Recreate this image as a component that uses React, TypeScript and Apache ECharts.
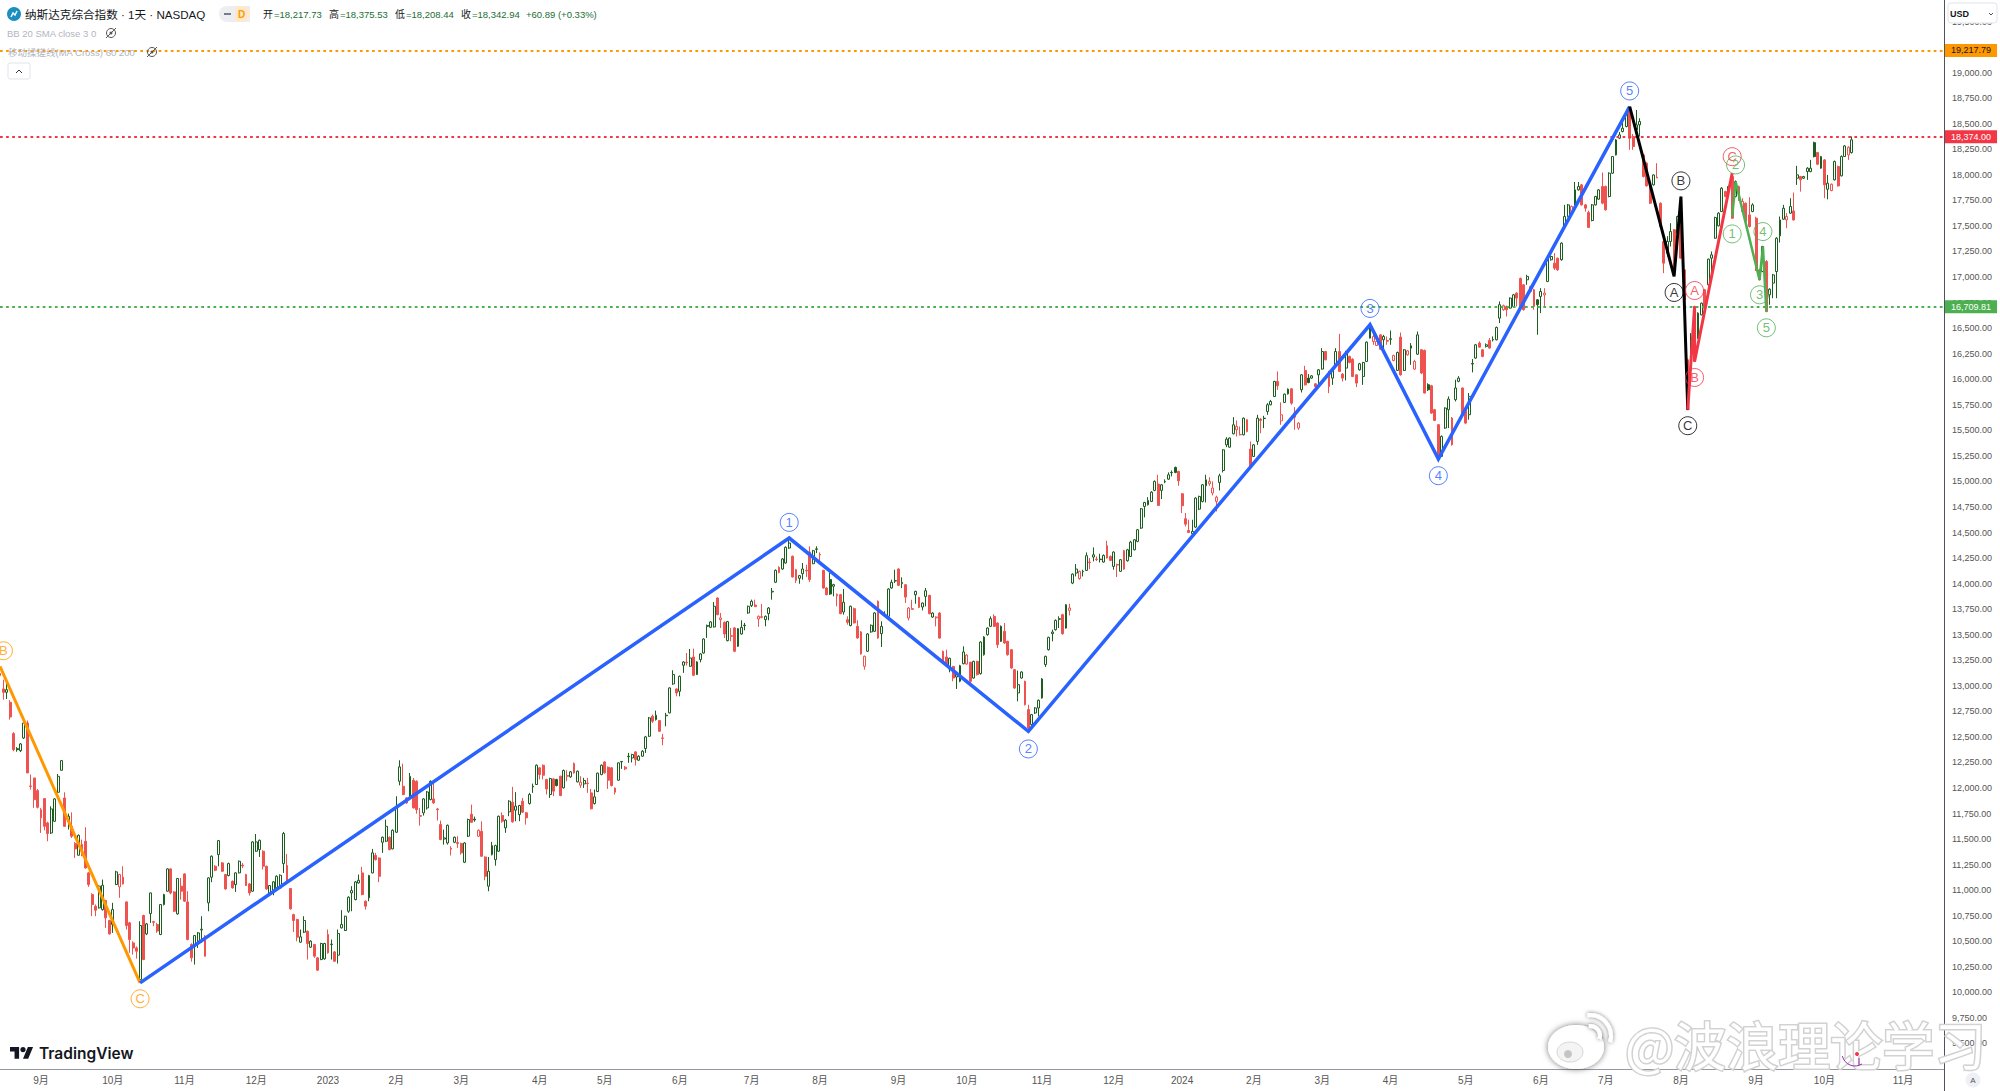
import React, { useEffect, useRef } from "react";
import * as echarts from "echarts";

type Row = number[];
// daily bars as [open, close, low, high]
const aug22: Row[] = [[13120,13100,13040,13181],[12969,12936,12864,13060],[12936,12962,12871,13027],[12838,12695,12669,12860],[12532,12375,12360,12545],[12385,12375,12355,12400],[12365,12431,12351,12440],[12489,12636,12480,12640],[12636,12147,12147,12660],[12020,12015,11984,12131],[12098,11886,11805,12098],[11974,11811,11800,11990]];
const sep22: Row[] = [[11707,11788,11560,11805],[11896,11625,11586,11900],[11658,11554,11479,11670],[11560,11795,11550,11821],[11674,11893,11670,11900],[11958,12114,11950,12137],[12173,12268,12170,12270],[11902,11625,11620,11958],[11674,11723,11593,11749],[11625,11528,11511,11762],[11456,11404,11316,11470],[11342,11537,11340,11545],[11446,11397,11332,11495],[11479,11218,11210,11616],[11169,11055,11032,11180],[10957,10859,10745,10970],[10843,10804,10745,10860],[10827,11039,10820,11050],[10810,11048,10800,11104],[10898,10729,10631,10905],[10703,10572,10565,10710]];
const oct22: Row[] = [[10664,10810,10582,10876],[11055,11179,11050,11190],[11032,11153,10925,11160],[11127,11061,11055,11234],[10885,10654,10615,10890],[10680,10517,10387,10690],[10484,10435,10370,10500],[10435,10403,10330,10450],[10126,10654,10093,10696],[10752,10321,10315,10760],[10572,10670,10560,10680],[10771,10973,10680,10975],[10692,10685,10647,10700],[10664,10600,10582,10680],[10566,10859,10560,10865],[10859,10957,10850,10965],[10990,11208,10985,11213],[11208,10973,10960,11213],[10983,10794,10785,10990],[10768,11114,10760,11120],[11039,10990,10908,11120]];
const nov22: Row[] = [[11159,10892,10885,11165],[10885,10517,10510,10990],[10468,10338,10300,10480],[10451,10556,10272,10560],[10501,10582,10435,10590],[10610,10618,10484,10745],[10550,10354,10350,10560],[10876,11120,10794,11125],[11127,11332,11078,11340],[11234,11195,11185,11245],[11348,11485,11234,11490],[11267,11185,11180,11275],[11153,11012,11005,11160],[11143,11260,11135,11270],[11087,11022,11015,11095],[11055,11169,10983,11175],[11169,11283,11165,11290],[11245,11237,11215,11265],[11153,11045,11040,11160],[11061,10973,10947,11070],[10990,11472,10985,11480]];
const dec22: Row[] = [[11381,11472,11375,11550],[11397,11488,11325,11495],[11381,11234,11202,11390],[11234,11012,11005,11240],[10957,11045,10950,11050],[11000,11081,10950,11090],[11022,11136,11015,11145],[11022,11146,11015,11155],[11260,11554,11169,11570],[11241,11078,11070,11355],[11016,10817,10810,11020],[10761,10703,10590,10770],[10713,10540,10500,10720],[10491,10543,10485,10615],[10589,10703,10580,10745],[10598,10478,10321,10605],[10442,10501,10435,10510],[10468,10354,10338,10475],[10338,10217,10210,10345],[10321,10478,10315,10485],[10328,10478,10320,10485]];
const jan23: Row[] = [[10566,10387,10380,10615],[10468,10472,10321,10517],[10396,10305,10298,10405],[10364,10576,10282,10615],[10631,10664,10625,10804],[10605,10745,10600,10750],[10794,10931,10778,10940],[10973,10996,10794,11039],[10908,11081,10900,11090],[11071,11097,11065,11153],[11169,10957,10950,11228],[10892,10843,10810,10900],[10925,11143,10892,11150],[11169,11365,11165,11404],[11339,11299,11290,11365],[11315,11136,11078,11320],[11469,11518,11365,11525],[11479,11625,11470,11690],[11518,11397,11390,11525],[11404,11586,11400,11595]];
const feb23: Row[] = [[11567,11821,11560,11919],[12066,12206,12026,12271],[12017,11935,11930,12238],[11903,11854,11845,11910],[11903,12114,11895,12147],[12075,11805,11800,12098],[12065,11788,11749,12075],[11730,11723,11632,11805],[11756,11893,11730,11900],[11805,11961,11788,11970],[11886,12065,11880,12075],[11893,11854,11845,12065],[11795,11788,11681,11805],[11642,11495,11490,11681],[11500,11511,11446,11593],[11462,11635,11446,11642],[11410,11400,11339,11430],[11469,11518,11460,11525],[11466,11456,11414,11528]];
const mar23: Row[] = [[11456,11365,11348,11465],[11273,11462,11265,11470],[11528,11691,11520,11700],[11743,11664,11660,11837],[11695,11687,11670,11720],[11528,11586,11520,11595],[11576,11332,11325,11674],[11325,11136,11097,11330],[11039,11185,10990,11325],[11348,11436,11340,11472],[11299,11436,11240,11445],[11381,11723,11375,11730],[11731,11675,11660,11760],[11610,11685,11561,11695],[11766,11871,11724,11880],[11861,11669,11660,12011],[11783,11822,11675,11959],[11740,11828,11675,11835],[11871,11763,11755,11903],[11757,11708,11642,11765],[11848,11936,11838,11952],[12010,12017,11952,12043],[12034,12223,12030,12230]];
const apr23: Row[] = [[12197,12131,12083,12205],[12223,12125,12083,12230],[12083,11991,11936,12090],[11936,12092,11903,12100],[12089,11969,11920,12095],[12083,12024,12015,12090],[12115,11926,11920,12120],[12001,12171,11995,12180],[12122,12115,12066,12174],[12109,12158,12100,12165],[12239,12148,12140,12250],[12060,12164,12055,12170],[12027,12057,12001,12115],[12040,12073,12001,12099],[12048,12043,11952,12099],[11952,11796,11790,11991],[11848,11913,11838,11985],[11965,12145,11960,12150],[12131,12223,12125,12230]];
const may23: Row[] = [[12255,12148,12140,12260],[12203,12076,11991,12210],[12197,12024,12015,12205],[11999,11959,11936,12005],[12076,12246,12070,12250],[12255,12260,12187,12262],[12203,12187,12175,12215],[12305,12311,12246,12343],[12294,12327,12250,12335],[12353,12278,12220,12360],[12272,12311,12265,12320],[12311,12360,12305,12370],[12386,12500,12343,12510],[12506,12686,12500,12695],[12702,12653,12637,12718],[12669,12712,12660,12757],[12660,12555,12550,12665],[12490,12485,12418,12529],[12706,12712,12604,12735],[12735,12979,12730,12985],[13018,13110,13010,13152],[12969,12930,12897,12975]];
const jun23: Row[] = [[12946,13093,12897,13100],[13201,13233,13126,13240],[13230,13225,13198,13321],[13191,13272,13185,13360],[13282,13103,13095,13364],[13110,13233,13105,13240],[13256,13312,13230,13320],[13321,13458,13315,13465],[13582,13590,13468,13599],[13572,13625,13565,13632],[13576,13778,13570,13820],[13859,13696,13690,13865],[13647,13664,13566,13713],[13621,13507,13468,13630],[13442,13628,13435,13635],[13490,13484,13435,13566],[13566,13338,13330,13575],[13387,13559,13380,13565],[13507,13572,13500,13641],[13593,13589,13543,13615],[13713,13778,13705,13785]];
const jul23: Row[] = [[13784,13827,13771,13843],[13790,13775,13771,13843],[13654,13680,13576,13688],[13676,13670,13660,13800],[13647,13680,13582,13688],[13706,13761,13641,13771],[13918,13925,13843,13957],[14013,14130,14005,14138],[14159,14110,14100,14170],[14143,14241,14135,14250],[14202,14355,14195,14365],[14348,14397,14340,14446],[14267,14065,14060,14275],[14136,14032,14006,14145],[14052,14078,13999,14085],[14097,14143,14039,14202],[14130,14124,14065,14185],[14309,14039,14016,14365],[14195,14322,14190,14330],[14335,14340,14299,14365]];
const aug23: Row[] = [[14285,14280,14218,14306],[14130,13957,13950,14135],[13957,13892,13885,13965],[14039,13898,13890,14104],[13974,13990,13876,13998],[13880,13895,13778,13905],[13892,13706,13700,13900],[13722,13817,13696,13947],[13647,13621,13598,13680],[13589,13778,13582,13785],[13755,13615,13610,13765],[13582,13468,13460,13641],[13527,13312,13305,13535],[13191,13289,13158,13295],[13338,13507,13330,13515],[13527,13592,13520,13600],[13533,13713,13527,13720],[13827,13468,13460,13835],[13510,13582,13380,13631],[13690,13696,13680,13729],[13680,13947,13675,13955],[13957,14013,13950,14039],[14025,14029,14006,14136]];
const sep23: Row[] = [[14143,13983,13975,14150],[13999,14012,13956,14061],[13989,13868,13810,13995],[13663,13761,13640,13770],[13748,13755,13745,13842],[13891,13924,13803,13930],[13865,13767,13760,13870],[13771,13810,13738,13815],[13875,13930,13777,13957],[13885,13705,13700,13890],[13673,13712,13665,13720],[13665,13673,13582,13680],[13712,13467,13460,13720],[13337,13223,13215,13345],[13282,13216,13210,13353],[13164,13269,13132,13275],[13190,13076,13044,13195],[13086,13119,12969,13125],[13044,13197,13035,13205],[13216,13331,13210,13386]];
const oct23: Row[] = [[13213,13301,13205,13310],[13230,13044,13011,13235],[13076,13239,13070,13245],[13239,13109,13100,13245],[13119,13428,13110,13435],[13304,13477,13295,13485],[13500,13565,13490,13572],[13582,13657,13575,13679],[13679,13582,13575,13700],[13614,13402,13370,13620],[13582,13435,13430,13590],[13533,13419,13410,13614],[13435,13304,13295,13440],[13353,13174,13165,13360],[13158,12978,12970,13165],[12930,13011,12848,13148],[13076,13135,13070,13142],[13044,12815,12808,13050],[12767,12587,12543,12815],[12620,12718,12604,12725],[12734,12783,12725,12790],[12783,12858,12701,12865]];
const nov23: Row[] = [[12881,13067,12875,13075],[13207,13288,13184,13295],[13353,13474,13345,13480],[13510,13526,13435,13549],[13549,13640,13540,13650],[13650,13657,13565,13680],[13696,13510,13500,13705],[13565,13793,13560,13800],[13738,13761,13689,13803],[14005,14093,13995,14100],[14103,14142,14070,14191],[14048,14120,14038,14128],[14115,14120,14070,14136],[14129,14273,14125,14305],[14211,14205,14142,14250],[14260,14282,14217,14354],[14240,14235,14220,14266],[14240,14235,14207,14292],[14211,14276,14205,14285],[14370,14250,14245,14419],[14266,14227,14220,14275]];
const dec23: Row[] = [[14168,14309,14136,14315],[14187,14181,14064,14195],[14120,14234,14115,14240],[14322,14142,14135,14330],[14224,14331,14215,14340],[14266,14406,14260,14419],[14331,14429,14325,14435],[14413,14527,14405,14535],[14543,14732,14535,14740],[14755,14794,14648,14800],[14771,14814,14765,14846],[14804,14895,14798,14905],[14912,15000,14905,15010],[14974,14765,14760,15065],[14912,14967,14827,14975],[14995,15000,14983,15020],[15022,15065,15015,15088],[15085,15088,15049,15107],[15137,15088,15080,15145],[15098,15006,14957,15105]];
const jan24: Row[] = [[14879,14762,14690,14885],[14635,14582,14560,14690],[14520,14501,14495,14625],[14488,14511,14480,14625],[14553,14837,14545,14845],[14729,14853,14720,14860],[14804,14967,14795,14975],[14957,15016,14794,15065],[14977,15000,14957,15042],[14886,14935,14863,15000],[14804,14846,14706,14860],[14990,15055,14912,15075],[15107,15309,15088,15315],[15358,15414,15335,15433],[15335,15424,15330,15430],[15466,15554,15460,15629],[15505,15538,15440,15596],[15460,15456,15450,15538],[15456,15619,15450,15625],[15603,15489,15480,15610],[15316,15146,15140,15391]];
const feb24: Row[] = [[15244,15358,15240,15365],[15391,15619,15358,15652],[15609,15596,15472,15620],[15615,15619,15521,15642],[15684,15750,15652,15766],[15750,15782,15745,15798],[15831,15978,15825,15985],[15978,15936,15897,16076],[15593,15652,15554,15773],[15773,15854,15767,15860],[15857,15903,15850,15910],[15906,15766,15750,15912],[15668,15629,15505,15727],[15522,15571,15505,15580],[15897,16043,15870,16050],[16086,15945,15938,16131],[16011,15968,15960,16050],[16011,16033,16005,16040],[15955,15929,15913,15960],[16043,16092,15929,16100]];
const mar24: Row[] = [[16099,16271,16095,16304],[16271,16190,16185,16278],[16076,15929,15864,16082],[16011,16099,15945,16105],[16141,16271,16135,16304],[16271,16076,16070,16444],[16050,16011,15978,16060],[16109,16271,15988,16278],[16223,16164,16155,16230],[16196,16027,16020,16205],[16043,15962,15923,16050],[16092,16151,16085,16160],[16027,16164,15945,16170],[16174,16363,16168,16370],[16402,16516,16400,16542],[16369,16418,16337,16451],[16330,16369,16325,16375],[16434,16294,16288,16440],[16386,16418,16288,16434],[16379,16372,16337,16418]];
const apr24: Row[] = [[16390,16396,16337,16477],[16183,16232,16175,16240],[16086,16262,16080,16270],[16412,16043,16035,16457],[16086,16288,16080,16295],[16239,16278,16230,16285],[16304,16327,16141,16353],[16099,16174,16092,16190],[16245,16434,16240,16467],[16288,16060,16050,16295],[16282,15865,15860,16290],[15946,15897,15885,15960],[15936,15669,15660,15945],[15702,15597,15590,15710],[15555,15229,15222,15560],[15245,15441,15240,15450],[15522,15718,15515,15725],[15702,15806,15522,15832],[15620,15359,15350,15630],[15800,15914,15783,15995],[15979,16011,15970,16030],[15914,15653,15645,15920]];
const may24: Row[] = [[15718,15571,15560,15725],[15653,15832,15604,15865],[16148,16155,16067,16197],[16207,16337,16200,16345],[16354,16314,16310,16370],[16288,16223,16215,16295],[16321,16337,16310,16350],[16380,16305,16300,16403],[16385,16390,16370,16419],[16386,16507,16380,16515],[16598,16729,16549,16761],[16680,16719,16670,16730],[16712,16680,16614,16720],[16696,16794,16690,16800],[16712,16826,16705,16835],[16843,16794,16712,16850],[16986,16712,16705,16995],[16924,16680,16672,16930],[16973,17006,16924,17022],[16859,16908,16850,16915],[16875,16712,16680,16885],[16777,16729,16435,16785]];
const jun24: Row[] = [[16810,16859,16647,16891],[16825,16843,16700,16891],[16957,17185,16950,17190],[17169,17201,17160,17210],[17136,17087,17070,17234],[17185,17071,17060,17190],[17169,17332,17160,17340],[17495,17592,17490,17706],[17592,17706,17585,17715],[17641,17690,17630,17700],[17674,17853,17668,17930],[17853,17886,17845,17930],[17902,17706,17700,17910],[17706,17674,17640,17715],[17631,17485,17480,17650],[17553,17706,17545,17715],[17706,17788,17700,17795],[17762,17853,17755,17860],[17886,17723,17712,18023]];
const jul24: Row[] = [[17886,17658,17650,17895],[17788,18016,17780,18025],[18016,18179,18010,18185],[18195,18342,18190,18350],[18359,18391,18350,18420],[18424,18456,18415,18510],[18473,18603,18465,18640],[18662,18358,18245,18671],[18375,18277,18245,18400],[18440,18489,18375,18635],[18489,18522,18375,18554],[18195,17984,17975,18205],[18114,17892,17885,18125],[17886,17723,17715,17895],[17902,17999,17895,18005],[17977,17970,17967,18114],[17722,17494,17488,17730],[17347,17136,17038,17355],[17233,17347,17200,17400],[17347,17445,17299,17527],[17462,17136,17006,17470],[17429,17592,17420,17600]];
const aug24: Row[] = [[17641,17185,17180,17788],[17070,16777,16770,17075],[16190,15701,15701,16200],[16255,16369,16190,16451],[16712,16174,16168,16720],[16402,16647,16395,16655],[16630,16744,16625,16750],[16875,16695,16690,16885],[16924,17175,16918,17180],[17185,17217,17038,17250],[17380,17582,17375,17590],[17501,17625,17495,17635],[17641,17869,17635,17880],[17837,17788,17780,17845],[17885,17837,17830,17895],[17983,17576,17570,18016],[17787,17934,17780,17945],[17885,17755,17745,17895],[17641,17739,17635,17771],[17722,17543,17535,17730],[17608,17494,17485,17781],[17641,17706,17635,17722]];
const sep24: Row[] = [[17576,17070,17060,17590],[17070,16973,16965,17080],[17054,17299,17048,17305],[17152,16663,16655,17165],[16826,16881,16728,16890],[16940,17021,16793,17030],[17054,17380,16793,17390],[17403,17559,17338,17592],[17566,17673,17560,17706],[17559,17592,17478,17625],[17625,17690,17620,17771],[17647,17559,17553,17827],[17967,18000,17902,18088],[17983,17951,17836,17990],[17967,17983,17960,17990],[18032,18065,17951,18075],[18032,18065,18025,18146],[18315,18179,18170,18325],[18218,18104,18095,18225],[18065,18179,18060,18185]];
const oct24: Row[] = [[18146,17902,17771,18155],[17859,17918,17761,17999],[17846,17908,17840,17915],[17951,18130,17945,18140],[18081,17892,17885,18090],[17990,18179,17985,18190],[18179,18283,18175,18290],[18195,18270,18146,18280],[18217.73,18342.94,18208.44,18375.53]];

const tickIndices = [12,33,54,75,96,116,135,158,177,199,220,240,263,283,305,326,346,367,387,407,429,451,470,492,514,534,557];
const tickLabels = ["9月","10月","11月","12月","2023","2月","3月","4月","5月","6月","7月","8月","9月","10月","11月","12月","2024","2月","3月","4月","5月","6月","7月","8月","9月","10月","11月"];
const barSlots = 570;

// wave legs as [bar index, price]
const orangeWave = [[0,13190],[41,10093]];
const blueWave = [[41,10093],[231,14446],[301,12555],[401,16533],[421,15219],[477,18668]];
const blackWave = [[477,18668],[490,17006],[492,17788],[494,15702]];
const redWave = [[494,15702],[496,16711],[496,16173],[507,18016]];
const greenWave = [[507,17592],[508,17934],[515,16973],[516,17299],[517,16663]];

// circled wave labels as [bar index, price, text]
const orangeMarks = [[1,13343,"B"],[41,9937,"C"]];
const blueMarks = [[231,14599,"1"],[301,12382,"2"],[401,16693,"3"],[421,15056,"4"],[477,18821,"5"]];
const blackMarks = [[490,16849,"A"],[492,17941,"B"],[494,15545,"C"]];
const redMarks = [[496,16868,"A"],[496,16017,"B"],[507,18178,"C"]];
const greenMarks = [[507,17422,"1"],[508,18097,"2"],[515,16826,"3"],[516,17445,"4"],[517,16503,"5"]];

const priceLines = [
  { value: 19217.79, color: "#ff9800", text: "#131722" },
  { value: 18374.0, color: "#f23645", text: "#ffffff" },
  { value: 16709.81, color: "#4caf50", text: "#ffffff" },
];

const UP = "#1b5e20";
const DOWN = "#ef5350";
const LATIN = '"Liberation Sans", Arial, sans-serif';
const CJK = '"Liberation Sans", "Noto Sans CJK SC", sans-serif';

echarts.graphic.registerShape(
  "tvLogo",
  echarts.graphic.extendPath("M14 22H7V11H0V4h14v18zM28 22h-8l7.5-18h8L28 22zM16 8a4 4 0 1 0 8 0a4 4 0 1 0 -8 0z", {})
);

const txt = (x: number, y: number, text: string, font: string, fill: string, extra: any = {}) => ({
  type: "text",
  x,
  y,
  z: 50,
  silent: true,
  style: { text, font, fill, textVerticalAlign: "middle", ...extra },
});

const eye = (x: number, y: number) => [
  { type: "circle", z: 50, shape: { cx: x, cy: y, r: 4.5 }, style: { fill: "none", stroke: "#555", lineWidth: 1 } },
  { type: "circle", z: 50, shape: { cx: x, cy: y, r: 1.5 }, style: { fill: "#555" } },
  { type: "line", z: 50, shape: { x1: x - 5, y1: y + 5, x2: x + 5, y2: y - 5 }, style: { stroke: "#555", lineWidth: 1 } },
];

const mark = "rgba(0,0,0,0.55)";

const overlay: any[] = [
  // header
  { type: "circle", z: 50, shape: { cx: 14, cy: 14, r: 7 }, style: { fill: "#1b8fc0" } },
  { type: "polyline", z: 51, shape: { points: [[11, 17], [13, 13], [15, 15], [17, 11]] }, style: { stroke: "#fff", lineWidth: 1.5, fill: "none" } },
  txt(25, 14, "纳斯达克综合指数 · 1天 · NASDAQ", `11.6px ${CJK}`, "#131722"),
  { type: "rect", z: 50, shape: { x: 219, y: 6, width: 31, height: 16, r: [8, 0, 0, 8] }, style: { fill: "#eceef2" } },
  { type: "rect", z: 50, shape: { x: 235, y: 6, width: 15, height: 16, r: [0, 8, 8, 0] }, style: { fill: "#ffe9cc" } },
  { type: "rect", z: 51, shape: { x: 224, y: 13, width: 7, height: 2 }, style: { fill: "#787b86" } },
  txt(238, 14, "D", `bold 10px ${LATIN}`, "#ff9800"),
  txt(263, 14, "开", `10px ${CJK}`, "#131722"),
  txt(274, 14, "=18,217.73", `9.5px ${LATIN}`, "#1b6e33"),
  txt(329, 14, "高", `10px ${CJK}`, "#131722"),
  txt(340, 14, "=18,375.53", `9.5px ${LATIN}`, "#1b6e33"),
  txt(395, 14, "低", `10px ${CJK}`, "#131722"),
  txt(406, 14, "=18,208.44", `9.5px ${LATIN}`, "#1b6e33"),
  txt(461, 14, "收", `10px ${CJK}`, "#131722"),
  txt(472, 14, "=18,342.94", `9.5px ${LATIN}`, "#1b6e33"),
  txt(526, 14, "+60.89 (+0.33%)", `9.5px ${LATIN}`, "#1b6e33"),
  txt(7, 33, "BB 20 SMA close 3 0", `9.5px ${LATIN}`, "#b2b5be"),
  ...eye(111, 33),
  txt(8, 52, "移动揉搓线(MA Cross) 60 200", `9.5px ${CJK}`, "#b2b5be"),
  ...eye(152, 52),
  { type: "rect", z: 50, shape: { x: 8, y: 63, width: 22, height: 16, r: 2 }, style: { fill: "#fff", stroke: "#e0e3eb", lineWidth: 1 } },
  { type: "polyline", z: 51, shape: { points: [[16, 73], [19, 70], [22, 73]] }, style: { stroke: "#333", lineWidth: 1, fill: "none" } },
  // price scale furniture
  { type: "line", z: 40, shape: { x1: 1944.5, y1: 0, x2: 1944.5, y2: 1091 }, style: { stroke: "#50535e", lineWidth: 1 } },
  { type: "rect", z: 50, shape: { x: 1948, y: 3, width: 49, height: 20, r: 3 }, style: { fill: "#fff", stroke: "#e0e3eb", lineWidth: 1 } },
  txt(1950, 13.5, "USD", `bold 9px ${LATIN}`, "#131722"),
  { type: "polyline", z: 51, shape: { points: [[1989, 13], [1991, 15], [1993, 13]] }, style: { stroke: "#555", lineWidth: 1, fill: "none" } },
  { type: "circle", z: 50, shape: { cx: 1973, cy: 1080, r: 7.5 }, style: { fill: "#eef0f6" } },
  txt(1973, 1080.5, "A", `8px ${LATIN}`, "#555", { align: "center" }),
  // TradingView mark
  { type: "tvLogo", z: 50, x: 10, y: 1044.4, scaleX: 0.65, scaleY: 0.65, style: { fill: "#131722" } },
  txt(39, 1053, "TradingView", `600 15.5px Inter, ${LATIN}`, "#131722"),
  // weibo watermark
  { type: "ellipse", z: 60, shape: { cx: 1576, cy: 1047, rx: 28, ry: 22 }, style: { fill: "#fff", shadowBlur: 6, shadowColor: mark } },
  { type: "ellipse", z: 62, shape: { cx: 1570, cy: 1052, rx: 13, ry: 10 }, style: { fill: "#f4f4f4", stroke: "#d8d8d8", lineWidth: 1 } },
  { type: "circle", z: 63, shape: { cx: 1568, cy: 1054, r: 4 }, style: { fill: "#c4c4c4" } },
  { type: "arc", z: 60, shape: { cx: 1590, cy: 1036, r: 10, startAngle: -1.7, endAngle: 0.3 }, style: { fill: "none", stroke: "#fff", lineWidth: 4, shadowBlur: 4, shadowColor: mark } },
  { type: "arc", z: 60, shape: { cx: 1590, cy: 1036, r: 21, startAngle: -1.7, endAngle: 0.3 }, style: { fill: "none", stroke: "#fff", lineWidth: 4, shadowBlur: 4, shadowColor: mark } },
  {
    type: "text",
    z: 60,
    x: 1625,
    y: 1043,
    silent: true,
    style: {
      text: "@波浪理论学习",
      font: '52px "Noto Sans CJK SC", sans-serif',
      fill: "#ffffff",
      textVerticalAlign: "middle",
      stroke: "#d2d2d2",
      lineWidth: 3,
    },
  },
  { type: "arc", z: 70, shape: { cx: 1855, cy: 1053, r: 13, startAngle: 1.0, endAngle: 2.9 }, style: { fill: "none", stroke: "#9c27b0", lineWidth: 1 } },
  { type: "line", z: 70, shape: { x1: 1859, y1: 1058, x2: 1859, y2: 1065 }, style: { stroke: "#9c27b0", lineWidth: 1 } },
  { type: "circle", z: 70, shape: { cx: 1857, cy: 1054, r: 2 }, style: { fill: "#f23645" } },
];

const rows: Row[] = [aug22,sep22,oct22,nov22,dec22,jan23,feb23,mar23,apr23,may23,jun23,jul23,aug23,sep23,oct23,nov23,dec23,jan24,feb24,mar24,apr24,may24,jun24,jul24,aug24,sep24,oct24].flat();

const candleData = rows.map((r, i) => {
  const prev = i > 0 ? rows[i - 1][1] : r[0];
  const col = r[1] >= prev ? UP : DOWN;
  const fill = r[1] >= r[0] ? "#ffffff" : col;
  return { value: r, itemStyle: { color: fill, color0: fill, borderColor: col, borderColor0: col, borderColorDoji: col } };
});

const waveSeries = (data: number[][], color: string, width: number) => ({
  type: "line",
  data,
  symbol: "none",
  silent: true,
  z: 6,
  lineStyle: { color, width, join: "miter" },
});

const markSeries = (marks: any[], color: string) => ({
  type: "scatter",
  silent: true,
  z: 8,
  symbol: "circle",
  symbolSize: 18,
  data: marks.map((m) => ({ name: m[2], value: [m[0], m[1]] })),
  itemStyle: { color: "rgba(255,255,255,0)", borderColor: color, borderWidth: 1 },
  label: { show: true, position: "inside", formatter: "{b}", color, fontSize: 13, fontFamily: LATIN },
});

export default function App() {
  const ref = useRef<HTMLDivElement>(null);
  useEffect(() => {
    document.body.style.margin = "0";
    const chart = echarts.init(ref.current!, undefined, { renderer: "svg" });
    chart.setOption({
      animation: false,
      backgroundColor: "#ffffff",
      grid: { left: -1.1, right: 56, top: 0, bottom: 22 },
      xAxis: {
        type: "category",
        boundaryGap: false,
        data: Array.from({ length: barSlots }, (_, i) => String(i)),
        axisTick: { show: false },
        axisLine: { show: true, lineStyle: { color: "#9598a1", width: 1 } },
        splitLine: { show: false },
        axisLabel: {
          interval: (i: number) => tickIndices.includes(i),
          formatter: (v: string) => tickLabels[tickIndices.indexOf(Number(v))] ?? "",
          color: "#555",
          fontSize: 10,
          margin: 6,
          fontFamily: CJK,
        },
      },
      yAxis: {
        type: "value",
        position: "right",
        min: 9250,
        max: 19711,
        interval: 250,
        splitLine: { show: false },
        axisTick: { show: false },
        axisLine: { show: false },
        axisLabel: {
          showMinLabel: false,
          showMaxLabel: false,
          margin: 8,
          color: "#555",
          fontSize: 9,
          fontFamily: LATIN,
          formatter: (v: number) => v.toLocaleString("en-US", { minimumFractionDigits: 2, maximumFractionDigits: 2 }),
        },
      },
      graphic: overlay,
      series: [
        {
          type: "candlestick",
          data: candleData,
          barWidth: 2.4,
          silent: true,
          z: 3,
          itemStyle: { color: "#fff", color0: DOWN, borderColor: UP, borderColor0: DOWN, borderWidth: 1 },
        },
        {
          type: "line",
          data: [],
          silent: true,
          z: 5,
          markLine: {
            silent: true,
            symbol: "none",
            animation: false,
            data: priceLines.map((p) => ({
              yAxis: p.value,
              lineStyle: { color: p.color, type: [2.7, 3.4], width: 2.2 },
              label: {
                show: true,
                position: "end",
                distance: 1,
                formatter: p.value.toLocaleString("en-US", { minimumFractionDigits: 2 }),
                color: p.text,
                backgroundColor: p.color,
                padding: [2, 6, 2, 6],
                fontSize: 9,
                fontFamily: LATIN,
              },
            })),
          },
        },
        waveSeries(orangeWave, "#ff9800", 3),
        waveSeries(blueWave, "#2962ff", 3.5),
        waveSeries(blackWave, "#000000", 3),
        waveSeries(redWave, "#f23645", 3),
        waveSeries(greenWave, "#4caf50", 2.5),
        markSeries(orangeMarks, "#ff9800"),
        markSeries(blueMarks, "#2962ff"),
        markSeries(blackMarks, "#000000"),
        markSeries(redMarks, "#f23645"),
        markSeries(greenMarks, "#4caf50"),
      ],
    });
    return () => chart.dispose();
  }, []);
  return <div ref={ref} style={{ width: 2000, height: 1091 }} />;
}
